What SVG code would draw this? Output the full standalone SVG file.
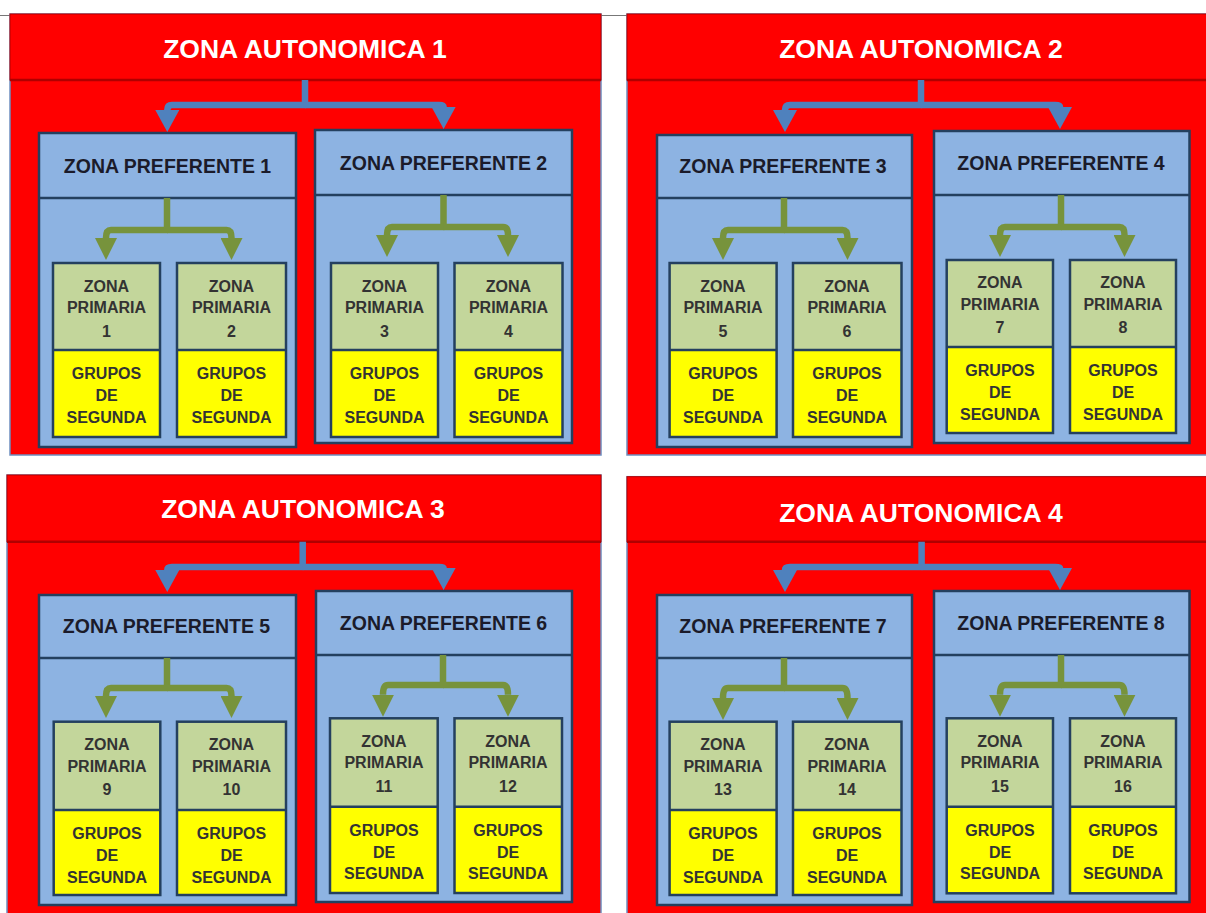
<svg xmlns="http://www.w3.org/2000/svg" width="1206" height="913" viewBox="0 0 1206 913">
<defs>
<style>
.za-body{fill:#ff0000;stroke:#6d8fc0;stroke-width:1.5}
.za-head{fill:#ff0000;stroke:#b80000;stroke-width:1}
.za-line{stroke:#b00000;stroke-width:2.5}
.za-t{font-family:"Liberation Sans",Arial,sans-serif;font-weight:bold;font-size:26.5px;fill:#ffffff;text-anchor:middle}
.zp{fill:#8db3e2;stroke:#24405f;stroke-width:2.5}
.zp-line{stroke:#24405f;stroke-width:2.5}
.zp-t{font-family:"Liberation Sans",Arial,sans-serif;font-weight:bold;font-size:19.5px;fill:#1b1b2a;text-anchor:middle}
.zm-g{fill:#c3d69b}
.zm-y{fill:#ffff00}
.zm-o{fill:none;stroke:#24405f;stroke-width:2.5}
.zm-t{font-family:"Liberation Sans",Arial,sans-serif;font-weight:bold;font-size:16px;fill:#333333;text-anchor:middle}
.cb{fill:none;stroke:#4f81bd;stroke-width:6.5;stroke-linejoin:round}
.cg{fill:none;stroke:#77933c;stroke-width:6.5;stroke-linejoin:round}
.ab{marker-end:url(#ahBlue)}
.ag{marker-end:url(#ahGreen)}
</style>
<marker id="ahBlue" viewBox="0 -12 22 24" refX="0" refY="0" markerWidth="22" markerHeight="24" markerUnits="userSpaceOnUse" orient="auto"><path d="M0,-12 L22,0 L0,12 z" fill="#4f81bd"/></marker>
<marker id="ahGreen" viewBox="0 -11 22 22" refX="0" refY="0" markerWidth="22" markerHeight="22" markerUnits="userSpaceOnUse" orient="auto"><path d="M0,-11 L22,0 L0,11 z" fill="#77933c"/></marker>
</defs>
<rect x="0" y="0" width="1206" height="913" fill="#ffffff"/>
<line x1="0" y1="15.5" x2="629" y2="15.5" stroke="#777777" stroke-width="1"/>

<!-- Zonas autonomicas -->
<g id="zona-autonomica-1">
<rect class="za-body" x="10" y="14" width="591" height="441"/>
<rect class="za-head" x="10" y="14" width="591" height="66"/>
<line class="za-line" x1="10" y1="80" x2="601" y2="80"/>
<text class="za-t" x="305" y="58">ZONA AUTONOMICA 1</text>
</g>
<g id="zona-autonomica-2">
<rect class="za-body" x="627" y="14" width="590" height="441"/>
<rect class="za-head" x="627" y="14" width="590" height="66"/>
<line class="za-line" x1="627" y1="80" x2="1206" y2="80"/>
<text class="za-t" x="921" y="58">ZONA AUTONOMICA 2</text>
</g>
<g id="zona-autonomica-3">
<rect class="za-body" x="7" y="475" width="594" height="460"/>
<rect class="za-head" x="7" y="475" width="594" height="66.7"/>
<line class="za-line" x1="7" y1="541.7" x2="601" y2="541.7"/>
<text class="za-t" x="303" y="518">ZONA AUTONOMICA 3</text>
</g>
<g id="zona-autonomica-4">
<rect class="za-body" x="627" y="476.7" width="590" height="460"/>
<rect class="za-head" x="627" y="476.7" width="590" height="65"/>
<line class="za-line" x1="627" y1="541.7" x2="1206" y2="541.7"/>
<text class="za-t" x="921" y="521.7">ZONA AUTONOMICA 4</text>
</g>

<!-- Zonas preferentes -->
<g id="zona-preferente-1">
<rect class="zp" x="39" y="133" width="257" height="314"/>
<line class="zp-line" x1="39" y1="198" x2="296" y2="198"/>
<text class="zp-t" x="167.5" y="173">ZONA PREFERENTE 1</text>
</g>
<g id="zona-preferente-2">
<rect class="zp" x="315" y="130" width="257" height="313"/>
<line class="zp-line" x1="315" y1="195" x2="572" y2="195"/>
<text class="zp-t" x="443.5" y="170">ZONA PREFERENTE 2</text>
</g>
<g id="zona-preferente-3">
<rect class="zp" x="657" y="135" width="255" height="312"/>
<line class="zp-line" x1="657" y1="198" x2="912" y2="198"/>
<text class="zp-t" x="783" y="173">ZONA PREFERENTE 3</text>
</g>
<g id="zona-preferente-4">
<rect class="zp" x="934" y="131" width="255.5" height="312"/>
<line class="zp-line" x1="934" y1="195" x2="1189.5" y2="195"/>
<text class="zp-t" x="1061" y="170">ZONA PREFERENTE 4</text>
</g>
<g id="zona-preferente-5">
<rect class="zp" x="39" y="595" width="257" height="310"/>
<line class="zp-line" x1="39" y1="658" x2="296" y2="658"/>
<text class="zp-t" x="166.5" y="633">ZONA PREFERENTE 5</text>
</g>
<g id="zona-preferente-6">
<rect class="zp" x="316" y="591" width="256" height="311"/>
<line class="zp-line" x1="316" y1="655" x2="572" y2="655"/>
<text class="zp-t" x="443.5" y="630">ZONA PREFERENTE 6</text>
</g>
<g id="zona-preferente-7">
<rect class="zp" x="657" y="595" width="255" height="310"/>
<line class="zp-line" x1="657" y1="658" x2="912" y2="658"/>
<text class="zp-t" x="783" y="633">ZONA PREFERENTE 7</text>
</g>
<g id="zona-preferente-8">
<rect class="zp" x="934" y="591" width="255.5" height="311"/>
<line class="zp-line" x1="934" y1="655" x2="1189.5" y2="655"/>
<text class="zp-t" x="1061" y="630">ZONA PREFERENTE 8</text>
</g>

<!-- Zonas primarias -->
<g id="zona-primaria-1">
<rect class="zm-g" x="53" y="263" width="107" height="87"/><rect class="zm-y" x="53" y="350" width="107" height="87"/>
<rect class="zm-o" x="53" y="263" width="107" height="174"/><line class="zp-line" x1="53" y1="350" x2="160" y2="350"/>
<text class="zm-t" x="106.5" y="291.5">ZONA</text><text class="zm-t" x="106.5" y="313">PRIMARIA</text><text class="zm-t" x="106.5" y="336.5">1</text>
<text class="zm-t" x="106.5" y="379">GRUPOS</text><text class="zm-t" x="106.5" y="401">DE</text><text class="zm-t" x="106.5" y="422.5">SEGUNDA</text>
</g>
<g id="zona-primaria-2">
<rect class="zm-g" x="177" y="263" width="109" height="87"/><rect class="zm-y" x="177" y="350" width="109" height="87"/>
<rect class="zm-o" x="177" y="263" width="109" height="174"/><line class="zp-line" x1="177" y1="350" x2="286" y2="350"/>
<text class="zm-t" x="231.5" y="291.5">ZONA</text><text class="zm-t" x="231.5" y="313">PRIMARIA</text><text class="zm-t" x="231.5" y="336.5">2</text>
<text class="zm-t" x="231.5" y="379">GRUPOS</text><text class="zm-t" x="231.5" y="401">DE</text><text class="zm-t" x="231.5" y="422.5">SEGUNDA</text>
</g>
<g id="zona-primaria-3">
<rect class="zm-g" x="331" y="263" width="107" height="87"/><rect class="zm-y" x="331" y="350" width="107" height="87"/>
<rect class="zm-o" x="331" y="263" width="107" height="174"/><line class="zp-line" x1="331" y1="350" x2="438" y2="350"/>
<text class="zm-t" x="384.5" y="291.5">ZONA</text><text class="zm-t" x="384.5" y="313">PRIMARIA</text><text class="zm-t" x="384.5" y="336.5">3</text>
<text class="zm-t" x="384.5" y="379">GRUPOS</text><text class="zm-t" x="384.5" y="401">DE</text><text class="zm-t" x="384.5" y="422.5">SEGUNDA</text>
</g>
<g id="zona-primaria-4">
<rect class="zm-g" x="454.5" y="263" width="108" height="87"/><rect class="zm-y" x="454.5" y="350" width="108" height="87"/>
<rect class="zm-o" x="454.5" y="263" width="108" height="174"/><line class="zp-line" x1="454.5" y1="350" x2="562.5" y2="350"/>
<text class="zm-t" x="508.5" y="291.5">ZONA</text><text class="zm-t" x="508.5" y="313">PRIMARIA</text><text class="zm-t" x="508.5" y="336.5">4</text>
<text class="zm-t" x="508.5" y="379">GRUPOS</text><text class="zm-t" x="508.5" y="401">DE</text><text class="zm-t" x="508.5" y="422.5">SEGUNDA</text>
</g>
<g id="zona-primaria-5">
<rect class="zm-g" x="669.6" y="263" width="107" height="87"/><rect class="zm-y" x="669.6" y="350" width="107" height="87"/>
<rect class="zm-o" x="669.6" y="263" width="107" height="174"/><line class="zp-line" x1="669.6" y1="350" x2="776.6" y2="350"/>
<text class="zm-t" x="723" y="291.5">ZONA</text><text class="zm-t" x="723" y="313">PRIMARIA</text><text class="zm-t" x="723" y="336.5">5</text>
<text class="zm-t" x="723" y="379">GRUPOS</text><text class="zm-t" x="723" y="401">DE</text><text class="zm-t" x="723" y="422.5">SEGUNDA</text>
</g>
<g id="zona-primaria-6">
<rect class="zm-g" x="793" y="263" width="108.5" height="87"/><rect class="zm-y" x="793" y="350" width="108.5" height="87"/>
<rect class="zm-o" x="793" y="263" width="108.5" height="174"/><line class="zp-line" x1="793" y1="350" x2="901.5" y2="350"/>
<text class="zm-t" x="847" y="291.5">ZONA</text><text class="zm-t" x="847" y="313">PRIMARIA</text><text class="zm-t" x="847" y="336.5">6</text>
<text class="zm-t" x="847" y="379">GRUPOS</text><text class="zm-t" x="847" y="401">DE</text><text class="zm-t" x="847" y="422.5">SEGUNDA</text>
</g>
<g id="zona-primaria-7">
<rect class="zm-g" x="946.7" y="260" width="106.3" height="87"/><rect class="zm-y" x="946.7" y="347" width="106.3" height="86"/>
<rect class="zm-o" x="946.7" y="260" width="106.3" height="173"/><line class="zp-line" x1="946.7" y1="347" x2="1053" y2="347"/>
<text class="zm-t" x="1000" y="288">ZONA</text><text class="zm-t" x="1000" y="309.5">PRIMARIA</text><text class="zm-t" x="1000" y="333">7</text>
<text class="zm-t" x="1000" y="376">GRUPOS</text><text class="zm-t" x="1000" y="398">DE</text><text class="zm-t" x="1000" y="419.5">SEGUNDA</text>
</g>
<g id="zona-primaria-8">
<rect class="zm-g" x="1070" y="260" width="106" height="87"/><rect class="zm-y" x="1070" y="347" width="106" height="86"/>
<rect class="zm-o" x="1070" y="260" width="106" height="173"/><line class="zp-line" x1="1070" y1="347" x2="1176" y2="347"/>
<text class="zm-t" x="1123" y="288">ZONA</text><text class="zm-t" x="1123" y="309.5">PRIMARIA</text><text class="zm-t" x="1123" y="333">8</text>
<text class="zm-t" x="1123" y="376">GRUPOS</text><text class="zm-t" x="1123" y="398">DE</text><text class="zm-t" x="1123" y="419.5">SEGUNDA</text>
</g>
<g id="zona-primaria-9">
<rect class="zm-g" x="53.7" y="721.7" width="106.6" height="88.3"/><rect class="zm-y" x="53.7" y="810" width="106.6" height="85"/>
<rect class="zm-o" x="53.7" y="721.7" width="106.6" height="173.3"/><line class="zp-line" x1="53.7" y1="810" x2="160.3" y2="810"/>
<text class="zm-t" x="107" y="750">ZONA</text><text class="zm-t" x="107" y="771.5">PRIMARIA</text><text class="zm-t" x="107" y="795">9</text>
<text class="zm-t" x="107" y="839">GRUPOS</text><text class="zm-t" x="107" y="861">DE</text><text class="zm-t" x="107" y="882.5">SEGUNDA</text>
</g>
<g id="zona-primaria-10">
<rect class="zm-g" x="177" y="721.7" width="109" height="88.3"/><rect class="zm-y" x="177" y="810" width="109" height="85"/>
<rect class="zm-o" x="177" y="721.7" width="109" height="173.3"/><line class="zp-line" x1="177" y1="810" x2="286" y2="810"/>
<text class="zm-t" x="231.5" y="750">ZONA</text><text class="zm-t" x="231.5" y="771.5">PRIMARIA</text><text class="zm-t" x="231.5" y="795">10</text>
<text class="zm-t" x="231.5" y="839">GRUPOS</text><text class="zm-t" x="231.5" y="861">DE</text><text class="zm-t" x="231.5" y="882.5">SEGUNDA</text>
</g>
<g id="zona-primaria-11">
<rect class="zm-g" x="330" y="718.3" width="107.7" height="88.4"/><rect class="zm-y" x="330" y="806.7" width="107.7" height="86.3"/>
<rect class="zm-o" x="330" y="718.3" width="107.7" height="174.7"/><line class="zp-line" x1="330" y1="806.7" x2="437.7" y2="806.7"/>
<text class="zm-t" x="384" y="746.5">ZONA</text><text class="zm-t" x="384" y="768">PRIMARIA</text><text class="zm-t" x="384" y="791.5">11</text>
<text class="zm-t" x="384" y="835.7">GRUPOS</text><text class="zm-t" x="384" y="857.7">DE</text><text class="zm-t" x="384" y="879.2">SEGUNDA</text>
</g>
<g id="zona-primaria-12">
<rect class="zm-g" x="454.5" y="718.3" width="107.5" height="88.4"/><rect class="zm-y" x="454.5" y="806.7" width="107.5" height="86.3"/>
<rect class="zm-o" x="454.5" y="718.3" width="107.5" height="174.7"/><line class="zp-line" x1="454.5" y1="806.7" x2="562" y2="806.7"/>
<text class="zm-t" x="508" y="746.5">ZONA</text><text class="zm-t" x="508" y="768">PRIMARIA</text><text class="zm-t" x="508" y="791.5">12</text>
<text class="zm-t" x="508" y="835.7">GRUPOS</text><text class="zm-t" x="508" y="857.7">DE</text><text class="zm-t" x="508" y="879.2">SEGUNDA</text>
</g>
<g id="zona-primaria-13">
<rect class="zm-g" x="669.6" y="721.7" width="107" height="88.3"/><rect class="zm-y" x="669.6" y="810" width="107" height="85"/>
<rect class="zm-o" x="669.6" y="721.7" width="107" height="173.3"/><line class="zp-line" x1="669.6" y1="810" x2="776.6" y2="810"/>
<text class="zm-t" x="723" y="750">ZONA</text><text class="zm-t" x="723" y="771.5">PRIMARIA</text><text class="zm-t" x="723" y="795">13</text>
<text class="zm-t" x="723" y="839">GRUPOS</text><text class="zm-t" x="723" y="861">DE</text><text class="zm-t" x="723" y="882.5">SEGUNDA</text>
</g>
<g id="zona-primaria-14">
<rect class="zm-g" x="793" y="721.7" width="108.5" height="88.3"/><rect class="zm-y" x="793" y="810" width="108.5" height="85"/>
<rect class="zm-o" x="793" y="721.7" width="108.5" height="173.3"/><line class="zp-line" x1="793" y1="810" x2="901.5" y2="810"/>
<text class="zm-t" x="847" y="750">ZONA</text><text class="zm-t" x="847" y="771.5">PRIMARIA</text><text class="zm-t" x="847" y="795">14</text>
<text class="zm-t" x="847" y="839">GRUPOS</text><text class="zm-t" x="847" y="861">DE</text><text class="zm-t" x="847" y="882.5">SEGUNDA</text>
</g>
<g id="zona-primaria-15">
<rect class="zm-g" x="946.7" y="718.3" width="106.3" height="88.4"/><rect class="zm-y" x="946.7" y="806.7" width="106.3" height="86.6"/>
<rect class="zm-o" x="946.7" y="718.3" width="106.3" height="175"/><line class="zp-line" x1="946.7" y1="806.7" x2="1053" y2="806.7"/>
<text class="zm-t" x="1000" y="746.5">ZONA</text><text class="zm-t" x="1000" y="768">PRIMARIA</text><text class="zm-t" x="1000" y="791.5">15</text>
<text class="zm-t" x="1000" y="835.7">GRUPOS</text><text class="zm-t" x="1000" y="857.7">DE</text><text class="zm-t" x="1000" y="879.2">SEGUNDA</text>
</g>
<g id="zona-primaria-16">
<rect class="zm-g" x="1070" y="718.3" width="106" height="88.4"/><rect class="zm-y" x="1070" y="806.7" width="106" height="86.6"/>
<rect class="zm-o" x="1070" y="718.3" width="106" height="175"/><line class="zp-line" x1="1070" y1="806.7" x2="1176" y2="806.7"/>
<text class="zm-t" x="1123" y="746.5">ZONA</text><text class="zm-t" x="1123" y="768">PRIMARIA</text><text class="zm-t" x="1123" y="791.5">16</text>
<text class="zm-t" x="1123" y="835.7">GRUPOS</text><text class="zm-t" x="1123" y="857.7">DE</text><text class="zm-t" x="1123" y="879.2">SEGUNDA</text>
</g>

<!-- Connectors -->
<g id="connectors">
<path class="cb ab" d="M305,80 V105 H172 Q167.3,105 167.3,110"/>
<path class="cb ab" d="M305,105 H439 Q443.6,105 443.6,107"/>
<path class="cb ab" d="M921,80 V105 H790 Q785,105 785,110"/>
<path class="cb ab" d="M921,105 H1055 Q1060,105 1060,107"/>
<path class="cb ab" d="M302.7,541.7 V567 H172 Q167.3,567 167.3,570"/>
<path class="cb ab" d="M302.7,567 H439 Q443.6,567 443.6,568"/>
<path class="cb ab" d="M921.6,541.7 V567 H790 Q785,567 785,570"/>
<path class="cb ab" d="M921.6,567 H1055 Q1060,567 1060,568"/>

<path class="cg ag" d="M167,198 V230 H111 Q106,230 106,238"/>
<path class="cg ag" d="M167,230 H226.5 Q231.5,230 231.5,238"/>
<path class="cg ag" d="M443.5,195 V227 H392 Q387,227 387,235"/>
<path class="cg ag" d="M443.5,227 H503 Q508,227 508,235"/>
<path class="cg ag" d="M784,198 V230 H728 Q723,230 723,238"/>
<path class="cg ag" d="M784,230 H842.5 Q847.5,230 847.5,238"/>
<path class="cg ag" d="M1061,195 V227 H1005 Q1000,227 1000,235"/>
<path class="cg ag" d="M1061,227 H1119.5 Q1124.5,227 1124.5,235"/>
<path class="cg ag" d="M167,658 V688 H111 Q106,688 106,696"/>
<path class="cg ag" d="M167,688 H226.5 Q231.5,688 231.5,696"/>
<path class="cg ag" d="M443,655 V685 H388 Q383,685 383,694.7"/>
<path class="cg ag" d="M443,685 H503 Q508,685 508,694.7"/>
<path class="cg ag" d="M784,658 V688 H728 Q723,688 723,698"/>
<path class="cg ag" d="M784,688 H842.5 Q847.5,688 847.5,698"/>
<path class="cg ag" d="M1061,655 V685 H1005 Q1000,685 1000,694.7"/>
<path class="cg ag" d="M1061,685 H1119.5 Q1124.5,685 1124.5,694.7"/>
</g>
</svg>
